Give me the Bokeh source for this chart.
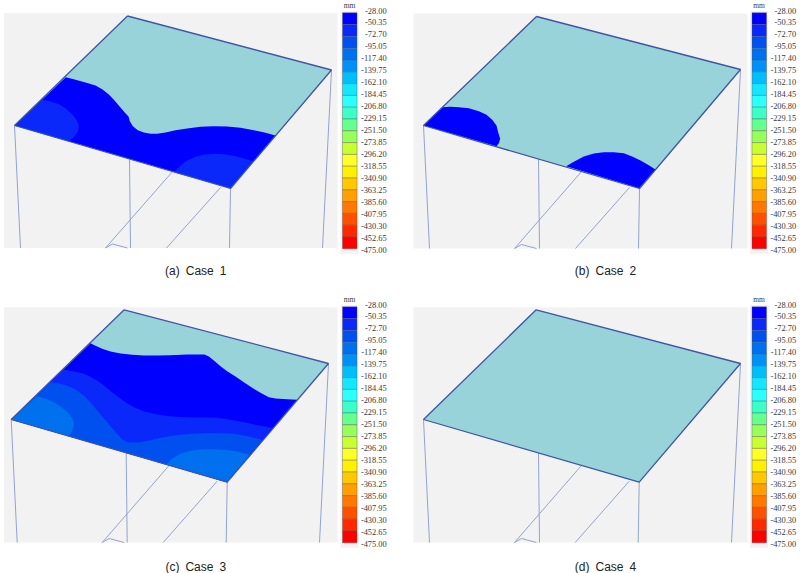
from bokeh.plotting import figure
from bokeh.models import Range1d
from bokeh.core.properties import value
from bokeh.embed import file_html
from bokeh.resources import INLINE

LEVELS = ["-28.00","-50.35","-72.70","-95.05","-117.40","-139.75","-162.10","-184.45","-206.80","-229.15",
          "-251.50","-273.85","-296.20","-318.55","-340.90","-363.25","-385.60","-407.95","-430.30","-452.65","-475.00"]
BAND_COLORS = ["#0000FF","#0A28FA","#0050F0","#0070EE","#0090F8","#00BEFA","#14E6FF","#2DFFFF","#3CFFC8","#64FF8C",
               "#96FF5A","#C8FF32","#FFFF28","#FFF000","#FFC800","#FFA000","#FF7800","#FF5000","#FF2800","#FF0000"]
CAPTIONS = ["(a)\u2002Case\u20021", "(b)\u2002Case\u20022", "(c)\u2002Case\u20023", "(d)\u2002Case\u20024"]

# Sketch outlines, in picture pixels.
PLATE = {
    "a": [(127,15.5),(331,69.5),(230,188),(14,125)],
    "b": [(536,16),(740,69),(639,188),(423,125)],
    "c": [(123.7,309.3),(328,363),(226.7,481.7),(10.7,419)],
    "d": [(535.7,309.3),(740,363),(638.7,481.7),(423,419)],
}
PANEL_X = {"a":(3.5,337), "b":(413,747), "c":(3.5,337), "d":(413,747)}
PANEL_Y = {"a":(12.5,247.5), "b":(13,248), "c":(306.7,542), "d":(306.7,542)}
BAR_X = {"a":342, "b":751.5, "c":342, "d":751.5}
BAR_Y = {"a":12.3, "b":12.3, "c":306.3, "d":306.3}
CAPTION_Y = {"a":270.5, "b":270.5, "c":566, "d":566}


def third(pts, ox=0, oy=0):
    """Outline read in thirds of a pixel, from a crop whose corner is at (ox, oy)."""
    return [(ox + x / 3, oy + y / 3) for x, y in pts]


A1 = third([(196,230),(225,238),(255,246),(285,255),(305,266),(325,282),(342,300),(358,319),(372,335),(384,348),(388,362),
            (397,377),(412,389),(430,396),(450,400),(470,400),(495,396),(525,389),(560,384),(600,379),(640,377),(680,378),
            (720,382),(760,389),(795,397),(825,405),(690,563),(42,375)])
A2 = third([(125,298),(150,303),(175,311),(197,325),(215,341),(228,358),(235,375),(232,392),(222,408),(205,422),(42,375)])
A3 = third([(520,515),(540,495),(560,480),(585,469),(610,463),(640,460),(670,461),(700,466),(730,474),(758,482),(690,563)])
B1 = third([(68,375),(125,320),(150,319),(175,320),(205,323),(235,332),(258,343),(275,358),(288,375),(293,395),(299,415),
            (295,428),(288,437)], 400, 0)
B2 = third([(497,497),(520,484),(550,468),(580,459),(610,455),(640,455),(670,458),(695,468),(720,480),(745,494),(765,507),
            (716,563)], 400, 0)
C1 = third([(270,158),(285,166),(305,175),(330,183),(360,189),(395,193),(430,195),(470,195),(510,194),(560,192),(612,192),
            (625,198),(640,210),(660,227),(680,242),(705,258),(730,275),(755,292),(780,307),(805,320),(825,324),(860,326),
            (890,328),(680,575),(32,387)], 0, 290)
C2 = third([(190,238),(220,243),(250,250),(275,262),(300,277),(325,297),(350,317),(375,335),(400,350),(430,362),(460,370),
            (505,377),(550,380),(600,381),(650,382),(690,388),(730,395),(775,405),(815,412),(680,575),(32,387)], 0, 290)
C3 = third([(150,275),(180,280),(205,287),(228,299),(250,315),(270,336),(290,360),(305,378),(320,395),(335,413),(350,430),
            (365,446),(380,455),(400,456),(420,455),(450,449),(480,442),(515,436),(550,432),(585,429),(620,428),(660,428),
            (700,430),(745,438),(785,448),(680,575),(32,387)], 0, 290)
C4a = third([(110,317),(135,325),(160,335),(185,351),(205,370),(216,385),(220,400),(216,420),(205,437),(32,387)], 0, 290)
C4b = third([(497,522),(515,505),(540,490),(565,482),(590,478),(620,476),(650,477),(680,479),(710,483),(748,493),(680,575)],
            0, 290)
CONTOURS = {
    "a": [(A1,0),(A2,1),(A3,1)],
    "b": [(B1,0),(B2,0)],
    "c": [(C1,0),(C2,1),(C3,2),(C4a,3),(C4b,3)],
    "d": [],
}

PLATE_COLOR = "#97D3D8"
PANEL_COLOR = "#F2F2F2"
EDGE_COLOR = "#3F55A5"
WALL_COLOR = "#93A3CF"
LABEL_COLOR = "#3A3A3A"
SERIF = value("Liberation Serif")
SANS = value("Liberation Sans")

p = figure(width=800, height=573, x_range=Range1d(0, 800), y_range=Range1d(573, 0),
           output_backend="svg", toolbar_location=None, min_border=0)
p.xaxis.visible = False
p.yaxis.visible = False
p.grid.visible = False
p.outline_line_color = None
p.background_fill_color = "white"


def xs(pts):
    return [q[0] for q in pts]


def ys(pts):
    return [q[1] for q in pts]


for key, caption in zip("abcd", CAPTIONS):
    x0, x1 = PANEL_X[key]
    y0, y1 = PANEL_Y[key]
    top, right, front, left = PLATE[key]
    p.quad(left=x0, right=x1, top=y0, bottom=y1, fill_color=PANEL_COLOR, line_color=None)

    # supporting walls and beams, all clipped by the panel's lower edge
    rear_x = left[0] + 115
    rear_y = left[1] + (front[1] - left[1]) * (rear_x - left[0]) / (front[0] - left[0])
    beam1 = (left[0] + 158, left[1] + (front[1] - left[1]) * 158 / (front[0] - left[0]))
    beam2 = (front[0] - 10, front[1] - 1)
    walls = [
        [left, (left[0] + 6, y1)],
        [right, (right[0] - 9, y1)],
        [front, (front[0] - 1, y1)],
        [(rear_x, rear_y), (rear_x + 1, y1)],
        [beam1, (beam1[0] - 67, y1)],
        [beam2, (beam2[0] - 54, y1)],
        [(beam1[0] - 67, y1), (beam1[0] - 60, y1 - 4), (beam1[0] - 45, y1)],
    ]
    for seg in walls:
        p.line(xs(seg), ys(seg), line_color=WALL_COLOR, line_width=1)

    p.patch(xs(PLATE[key]), ys(PLATE[key]), fill_color=PLATE_COLOR, line_color=None)
    for pts, band in CONTOURS[key]:
        p.patch(xs(pts), ys(pts), fill_color=BAND_COLORS[band], line_color=None)
    outline = PLATE[key] + [top]
    p.line(xs(outline), ys(outline), line_color=EDGE_COLOR, line_width=1.3)

    # legend
    bx = BAR_X[key]
    by = BAR_Y[key]
    step = 11.8
    p.quad(left=bx - 2, right=bx + 16, top=by - 2, bottom=by + 20 * step + 5, fill_color=PANEL_COLOR, line_color=None)
    tops = [by + i * step for i in range(len(BAND_COLORS))]
    bottoms = [t + step for t in tops]
    p.quad(left=bx, right=bx + 14.5, top=tops, bottom=bottoms, fill_color=BAND_COLORS,
           line_color="#555555", line_alpha=0.55, line_width=0.7)
    p.text(x=[bx + 44.2] * len(LEVELS), y=[by - 2.3 + i * 11.95 for i in range(len(LEVELS))], text=LEVELS,
           text_font=SERIF, text_font_size="8.4px", text_color=LABEL_COLOR, text_align="right", text_baseline="middle")
    p.text(x=[bx + 7], y=[by - 7.5], text=["mm"], text_font=SERIF, text_font_size="7.5px", text_color=LABEL_COLOR,
           text_align="center", text_baseline="middle")
    p.text(x=[(x0 + x1) / 2 + 25], y=[CAPTION_Y[key]], text=[caption], text_font=SANS, text_font_size="12px",
           text_color="#222222", text_align="center", text_baseline="middle")

open("out.html", "w").write(file_html(p, INLINE))
